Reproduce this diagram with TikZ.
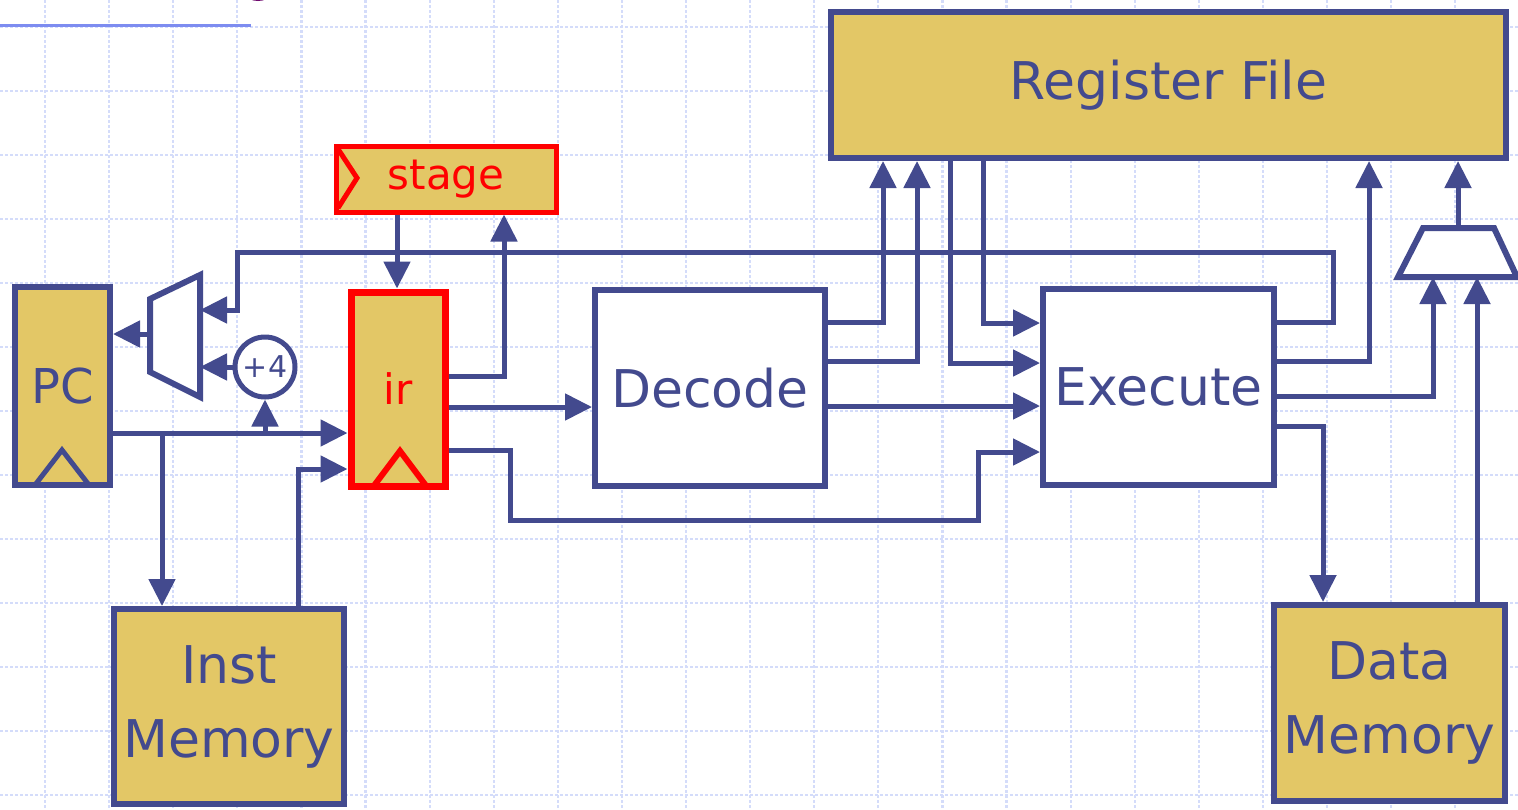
\documentclass[tikz,border=0pt]{standalone}
\usepackage{fontspec}
\setmainfont{DejaVu Sans}
\usetikzlibrary{arrows.meta}
\definecolor{navy}{RGB}{67,74,142}
\definecolor{gold}{RGB}{227,199,102}
\definecolor{gridc}{RGB}{212,220,250}
\definecolor{rulec}{RGB}{125,140,240}
\definecolor{titlec}{RGB}{110,10,110}
\newcommand\lblfont{\fontsize{26}{37}\selectfont}
\tikzset{
  wire/.style={draw=navy, line width=2.5pt},
  arr/.style={wire, -{Triangle[length=13.5pt,width=13pt]}},
  blk/.style={draw=navy, line width=3pt, fill=white, rectangle, inner sep=0pt, text=navy, font=\lblfont},
  reg/.style={blk, fill=gold},
  redreg/.style={draw=red, line width=3.5pt, fill=gold, rectangle, inner sep=0pt, text=red, font=\fontsize{21}{25}\selectfont},
  gridline/.style={draw=gridc, line width=1.1pt, dash pattern=on 1.5pt off 1pt},
  muxshape/.style={draw=navy, line width=3pt, fill=white},
  clk/.style={line width=2.5pt},
}
\begin{document}
\begin{tikzpicture}[x=0.5pt,y=-0.5pt]
\useasboundingbox (0,0) rectangle (1518,809);
\fill[white] (0,0) rectangle (1518,809);
\foreach \i in {0,...,22} \draw[gridline] ({45+64.1*\i},0) -- ({45+64.1*\i},809);
\foreach \j in {0,...,12} \draw[gridline] (0,{27+64*\j}) -- (1518,{27+64*\j});
\draw[rulec, line width=1.5pt] (0,25) -- (251,25);
\fill[titlec] (258,-6) ellipse [x radius=6pt, y radius=3.5pt];

% blocks
\node[reg, minimum width=47.5pt, minimum height=99pt, font=\fontsize{24}{28}\selectfont] (pc) at (62.5,386) {PC};
\node[redreg, minimum width=47pt, minimum height=97pt] (ir) at (398,389) {ir};
\node[redreg, line width=2.5pt, minimum width=110pt, minimum height=33pt] (stage) at (446,179) {stage};
\node[blk, minimum width=115pt, minimum height=98pt] (dec) at (710,388) {Decode};
\node[blk, minimum width=115.5pt, minimum height=98pt] (exe) at (1158.5,387) {Execute};
\node[reg, minimum width=337.5pt, minimum height=73pt] (rf) at (1168.5,85) {Register File};
\node[reg, minimum width=115pt, minimum height=97.5pt, align=center] (im) at (229,706.5) {Inst\\Memory};
\node[reg, minimum width=115.5pt, minimum height=98pt, align=center] (dm) at (1389.5,703) {Data\\Memory};
\node[draw=navy, line width=2.5pt, circle, minimum size=30pt, fill=white, inner sep=0pt, text=navy, font=\fontsize{15}{17}\selectfont] (p4) at (265,367) {+4};

% muxes
\draw[muxshape] (150,299) -- (200,275) -- (200,397) -- (150,372) -- cycle;
\coordinate (muxLout) at (150,334);
\coordinate (muxLin1) at (200,310);
\coordinate (muxLin2) at (200,367);
\draw[muxshape] (1423,228) -- (1494,228) -- (1517,277) -- (1398,277) -- cycle;
\coordinate (muxRout) at (1458,228);
\coordinate (muxRin1) at (1433,277);
\coordinate (muxRin2) at (1477,277);

% clock marks
\draw[navy, clk] (35,485) -- (62,450) -- (89,485);
\draw[red, clk, line width=3pt] (373,487) -- (400,451) -- (427,487);
\draw[red, clk] (338,149) -- (357,178) -- (338,208);

% connectors
\draw[arr] (muxLout) -- (muxLout -| pc.east);
\draw[arr] (exe.east |- 0,322) -- (1333,322) -- (1333,252) -- (237,252) -- (237,310) -- (muxLin1);
\draw[arr] (p4.west) -- (muxLin2);
\draw[arr] (pc.east |- 0,433) -- (ir.west |- 0,433);
\draw[arr] (p4.south |- 0,433) -- (p4.south);
\draw[arr] (162,433) -- (162,0 |- im.north);
\draw[arr] (298,0 |- im.north) |- (ir.west |- 0,469);
\draw[arr] (397,0 |- stage.south) -- (397,0 |- ir.north);
\draw[arr] (ir.east |- 0,376) -| (504,0 |- stage.south);
\draw[arr] (ir.east |- 0,407) -- (dec.west |- 0,407);
\draw[arr] (ir.east |- 0,450) -- (510,450) -- (510,520) -- (978,520) -- (978,452) -- (exe.west |- 0,452);
\draw[arr] (dec.east |- 0,322) -| (883,0 |- rf.south);
\draw[arr] (dec.east |- 0,361) -| (917,0 |- rf.south);
\draw[arr] (dec.east |- 0,406) -- (exe.west |- 0,406);
\draw[arr] (950,0 |- rf.south) |- (exe.west |- 0,363);
\draw[arr] (983,0 |- rf.south) |- (exe.west |- 0,323);
\draw[arr] (exe.east |- 0,361) -| (1369,0 |- rf.south);
\draw[arr] (exe.east |- 0,396) -| (muxRin1);
\draw[arr] (exe.east |- 0,426) -| (1323,0 |- dm.north);
\draw[arr] (1477,0 |- dm.north) -- (muxRin2);
\draw[arr] (muxRout) -- (1458,0 |- rf.south);
\end{tikzpicture}
\end{document}
